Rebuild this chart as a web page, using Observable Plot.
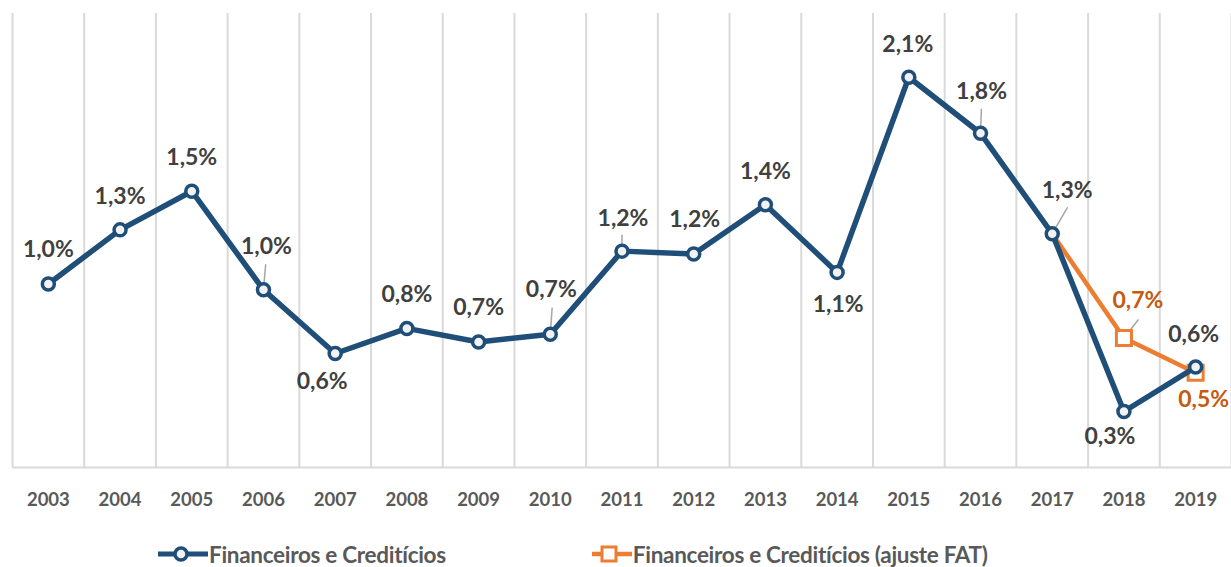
<!DOCTYPE html>
<html><head><meta charset="utf-8">
<script src="https://cdn.jsdelivr.net/npm/d3@7"></script>
<script src="https://cdn.jsdelivr.net/npm/@observablehq/plot@0.6"></script>
<style>
body{margin:0;background:#fff;font-family:Lato,"Open Sans",sans-serif;}
#wrap{position:relative;width:1231px;height:567px;overflow:hidden;background:#fff;}
#chart{position:absolute;left:0;top:0;}
#legend{position:absolute;left:158px;top:539px;height:30px;display:flex;align-items:center;gap:146px;font-weight:700;font-size:22.5px;letter-spacing:-0.3px;color:#595959;white-space:nowrap;}
.item{display:flex;align-items:center;gap:1px;}
</style></head><body>
<div id="wrap"><div id="chart"></div><div id="legend"></div></div>
<script>
// ---- data ----
const years = [2003,2004,2005,2006,2007,2008,2009,2010,2011,2012,2013,2014,2015,2016,2017,2018,2019];
const financeiros = [1.00,1.28,1.48,0.97,0.64,0.77,0.70,0.74,1.17,1.155,1.41,1.06,2.07,1.78,1.26,0.34,0.57];
const ajusteYears = [2017,2018,2019];
const ajusteFAT = [1.26,0.72,0.54];
const seriesNames = ["Financeiros e Creditícios","Financeiros e Creditícios (ajuste FAT)"];

// ---- label placement (style config) ----
const blueLabelOffsets = [[0,-34],[0,-33],[0,-34],[3,-43],[-13,28],[0,-34],[0,-34],[1,-45],[1,-33],[1,-34],[0,-33],[1,32],[-1,-33],[1,-42],[15,-43],[-14,25],[-2,-32]];
const orangeLabelOffsets = [null,[14,-37],[8,27]];
const blueLeaders = {2006:[25,5],2010:[26,4],2011:[16,0],2016:[24,2],2017:[30,30]};
const orangeLeaders = {2018:[23,38]};

const BLUE = "#1f4e79", ORANGE = "#ed7d31", ORANGE_TXT = "#c55a11", LABEL = "#404040";
const fmt = v => v.toFixed(1).replace(".", ",") + "%";

const blue = years.map((y,i) => ({year:y, value:financeiros[i], off:blueLabelOffsets[i]}));
const orange = ajusteYears.map((y,i) => ({year:y, value:ajusteFAT[i], off:orangeLabelOffsets[i]}));
const gridXs = years.map(y => y - 0.5).concat([years[years.length-1] + 0.5]);

const lineShape = {draw(ctx, l){ ctx.moveTo(0,0); ctx.lineTo(0,-l); }};
const leaderData = [
  ...blue.filter(d => blueLeaders[d.year]).map(d => ({...d, len:blueLeaders[d.year][0], rot:blueLeaders[d.year][1]})),
  ...orange.filter(d => orangeLeaders[d.year]).map(d => ({...d, len:orangeLeaders[d.year][0], rot:orangeLeaders[d.year][1]}))
];

const labelMarks = [];
blue.forEach(d => labelMarks.push(Plot.text([d], {x:"year", y:"value", text: d => fmt(d.value), dx:d.off[0], dy:d.off[1], fill:LABEL, fontSize:23, fontWeight:700})));
orange.forEach(d => { if (d.off) labelMarks.push(Plot.text([d], {x:"year", y:"value", text: d => fmt(d.value), dx:d.off[0], dy:d.off[1], fill:ORANGE_TXT, fontSize:23, fontWeight:700})); });

const chart = Plot.plot({
  width: 1231,
  height: 530,
  marginTop: 13,
  marginBottom: 63,
  marginLeft: 12,
  marginRight: 0,
  style: {fontFamily: "Lato, 'Open Sans', sans-serif", background: "#fff"},
  x: {domain: [years[0]-0.5, years[years.length-1]+0.5], label: null},
  y: {domain: [0.05, 2.4], axis: null},
  length: {type: "identity"},
  marks: [
    Plot.ruleX(gridXs, {stroke:"#d9d9d9", strokeWidth:2}),
    Plot.ruleY([0.05], {stroke:"#d9d9d9", strokeWidth:2}),
    Plot.axisX({ticks: years, tickFormat: d => String(d), tickSize: 0, tickPadding: 25, fontSize: 18.5, fontWeight: 700, fill: "#595959", label: null}),
    Plot.line(orange, {x:"year", y:"value", stroke:ORANGE, strokeWidth:4.5}),
    Plot.vector(leaderData, {x:"year", y:"value", length:"len", rotate:"rot", anchor:"start", shape:lineShape, stroke:"#a6a6a6", strokeWidth:1.5}),
    Plot.dot(orange.filter(d => d.off), {x:"year", y:"value", symbol:"square", r:8.5, fill:"#fff", stroke:ORANGE, strokeWidth:3}),
    Plot.line(blue, {x:"year", y:"value", stroke:BLUE, strokeWidth:5.5}),
    Plot.dot(blue, {x:"year", y:"value", r:6, fill:"#f2f2f2", stroke:BLUE, strokeWidth:3.5}),
    ...labelMarks
  ]
});
document.getElementById("chart").appendChild(chart);

// legend
const legend = document.getElementById("legend");
legend.innerHTML = `
<div class="item"><svg width="50" height="20"><line x1="0" y1="10" x2="50" y2="10" stroke="${BLUE}" stroke-width="5"/><circle cx="23" cy="10" r="6" fill="#f2f2f2" stroke="${BLUE}" stroke-width="3.5"/></svg><span>${seriesNames[0]}</span></div>
<div class="item"><svg width="40" height="20"><line x1="0" y1="10" x2="40" y2="10" stroke="${ORANGE}" stroke-width="4.5"/><rect x="10" y="3" width="14" height="14" fill="#fff" stroke="${ORANGE}" stroke-width="3"/></svg><span>${seriesNames[1]}</span></div>`;
</script>
</body></html>
